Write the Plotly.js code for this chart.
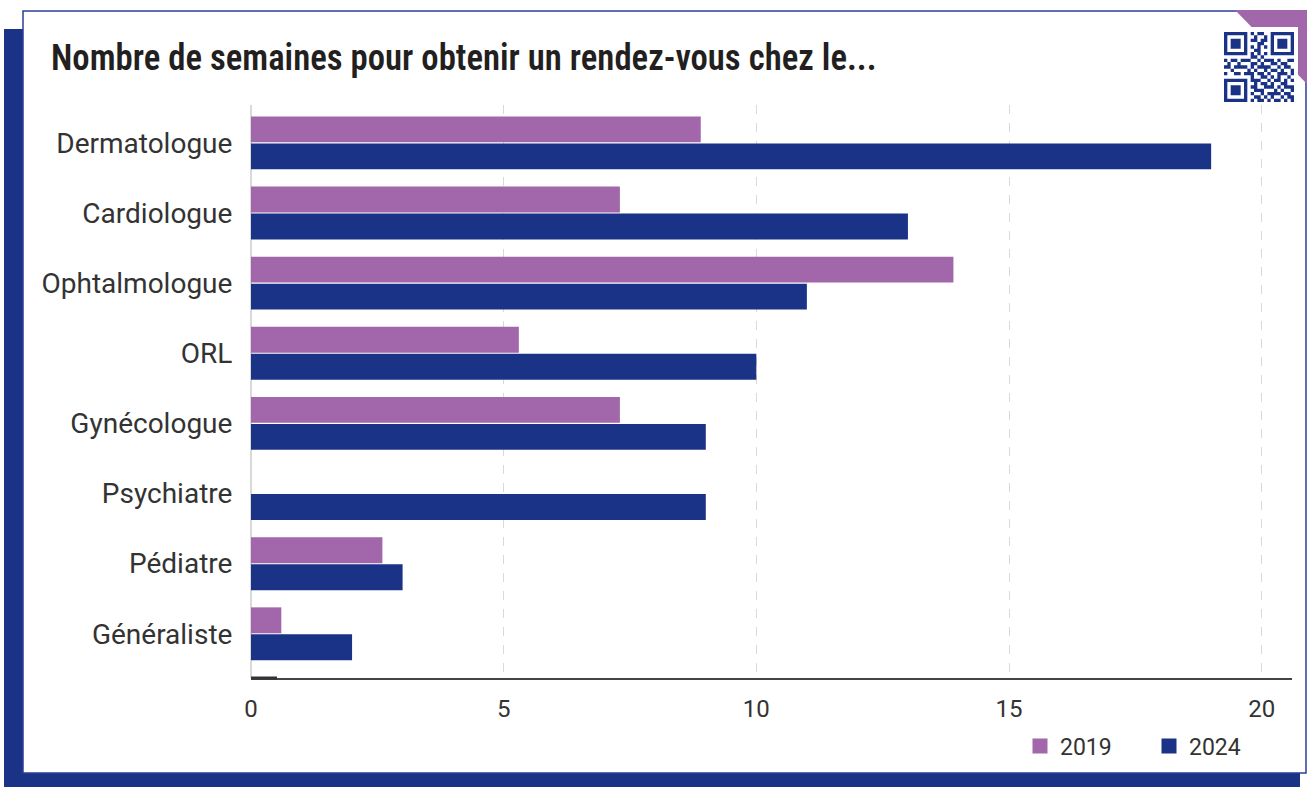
<!DOCTYPE html>
<html>
<head>
<meta charset="utf-8">
<script src="https://cdn.plot.ly/plotly-3.0.1.min.js"></script>
<style>html,body{margin:0;padding:0;background:#fff;}#chart{width:1307px;height:788px;}</style>
</head>
<body>
<div id="chart"></div>
<script>
const categories = ["Dermatologue","Cardiologue","Ophtalmologue","ORL","Gynécologue","Psychiatre","Pédiatre","Généraliste"];
const values2019 = [8.9, 7.3, 13.9, 5.3, 7.3, null, 2.6, 0.6];
const values2024 = [19, 13, 11, 10, 9, 9, 3, 2];
const seriesNames = ["2019","2024"];
const xTicks = [0, 5, 10, 15, 20];

const purple = "#a266aa";
const navy = "#1b3386";

const W = 1307, H = 788;
const L = 251, R = 1292, T = 105, B = 678;
const px = x => (x - L) / (R - L);
const py = y => (B - y) / (B - T);

const shapes = [];
shapes.push({type:"rect", xref:"paper", yref:"paper", x0:px(4), x1:px(1300), y0:py(29), y1:py(787), fillcolor:navy, line:{width:0}, layer:"below"});
shapes.push({type:"rect", xref:"paper", yref:"paper", x0:px(23), x1:px(1306), y0:py(11), y1:py(773), fillcolor:"#fff", line:{color:"#2a3f95", width:1.5}, layer:"below"});
shapes.push({type:"path", xref:"paper", yref:"paper", path:`M${px(1235)},${py(10)} L${px(1307)},${py(10)} L${px(1307)},${py(84)} Z`, fillcolor:purple, line:{width:0}, layer:"below"});
shapes.push({type:"rect", xref:"paper", yref:"paper", x0:px(1218), x1:px(1298), y0:py(27), y1:py(106), fillcolor:"#fff", line:{width:0}, layer:"below"});

const qr = [
"111111101011001111111",
"100000100100101000001",
"101110101101101011101",
"101110100011001011101",
"101110101010101011101",
"100000100110001000001",
"111111101010101111111",
"000000001101000000000",
"101101110010111010011",
"010010001101001101100",
"110111101011110010110",
"001000010100101101001",
"100110111011010011101",
"000000001001101010010",
"111111101110010110101",
"100000100101101001100",
"101110101100111010111",
"101110100111000101001",
"101110101001011110110",
"100000100110101001011",
"111111101011010110101"
];
const qx0 = 1224, qy0 = 32, qs = 70/21;
let qpath = "";
qr.forEach((row, r) => {
  for (let c = 0; c < row.length; c++) {
    if (row[c] === "1") {
      const x0 = px(qx0 + c*qs), x1 = px(qx0 + (c+1)*qs);
      const y0 = py(qy0 + r*qs), y1 = py(qy0 + (r+1)*qs);
      qpath += `M${x0},${y0}L${x1},${y0}L${x1},${y1}L${x0},${y1}Z`;
    }
  }
});
shapes.push({type:"path", xref:"paper", yref:"paper", path:qpath, fillcolor:navy, line:{width:0}, layer:"below"});
shapes.push({type:"line", xref:"paper", yref:"paper", x0:px(251), x1:px(277), y0:0, y1:0, line:{color:"#333", width:3}, layer:"above"});

const data = [
  {type:"bar", orientation:"h", name:seriesNames[0], y:categories, x:values2019, marker:{color:purple}, hoverinfo:"x+y"},
  {type:"bar", orientation:"h", name:seriesNames[1], y:categories, x:values2024, marker:{color:navy}, hoverinfo:"x+y"}
];

const layout = {
  width: W, height: H,
  margin: {l: L, r: W - R, t: T, b: H - B, pad: 0},
  paper_bgcolor: "rgba(0,0,0,0)",
  plot_bgcolor: "rgba(0,0,0,0)",
  barmode: "group",
  bargap: 0.23,
  bargroupgap: 0.04,
  font: {family: "Roboto, 'Open Sans', sans-serif", color: "#333"},
  title: {
    text: "Nombre de semaines pour obtenir un rendez-vous chez le...",
    font: {family: "'Roboto Condensed', Roboto, sans-serif", size: 37, color: "#231f20", weight: 600},
    xref: "container", yref: "container",
    x: 51 / W, xanchor: "left",
    y: 1 - 57 / H, yanchor: "middle"
  },
  xaxis: {
    range: [0, 20.6],
    tickvals: xTicks,
    ticktext: xTicks.map(String),
    showgrid: true,
    gridcolor: "#d9d9d9",
    griddash: "dash",
    gridwidth: 1,
    zeroline: true,
    zerolinecolor: "#d9d9d9",
    zerolinewidth: 1.5,
    showline: true,
    linecolor: "#444",
    linewidth: 1.5,
    ticks: "outside",
    ticklen: 9,
    tickcolor: "rgba(0,0,0,0)",
    tickfont: {size: 24, color: "#333"},
    fixedrange: true
  },
  yaxis: {
    categoryorder: "array",
    categoryarray: categories,
    range: [7.63, -0.54],
    showgrid: false,
    zeroline: false,
    showline: false,
    ticks: "outside",
    ticklen: 12,
    tickcolor: "rgba(0,0,0,0)",
    tickfont: {size: 28, color: "#333"},
    fixedrange: true
  },
  showlegend: true,
  legend: {
    orientation: "h",
    xref: "container", yref: "container",
    x: 1020 / W, xanchor: "left",
    y: 1 - 746 / H, yanchor: "middle",
    font: {size: 23, color: "#333"},
    entrywidth: 84,
    entrywidthmode: "pixels",
    bgcolor: "rgba(0,0,0,0)",
    traceorder: "normal"
  },
  shapes: shapes
};

Plotly.newPlot("chart", data, layout, {displayModeBar: false, staticPlot: true}).then(gd => {
  const t = gd.querySelector(".gtitle");
  if (t) {
    const bb = t.getBBox();
    const target = 826;
    const s = target / bb.width;
    const x0 = bb.x;
    t.setAttribute("transform", `translate(${x0},0) scale(${s},1) translate(${-x0},0)`);
  }
  gd.querySelectorAll(".legendpoints path").forEach(p => {
    const old = p.getAttribute("transform") || "";
    p.setAttribute("transform", old + " scale(1.25)");
  });
});
</script>
</body>
</html>
